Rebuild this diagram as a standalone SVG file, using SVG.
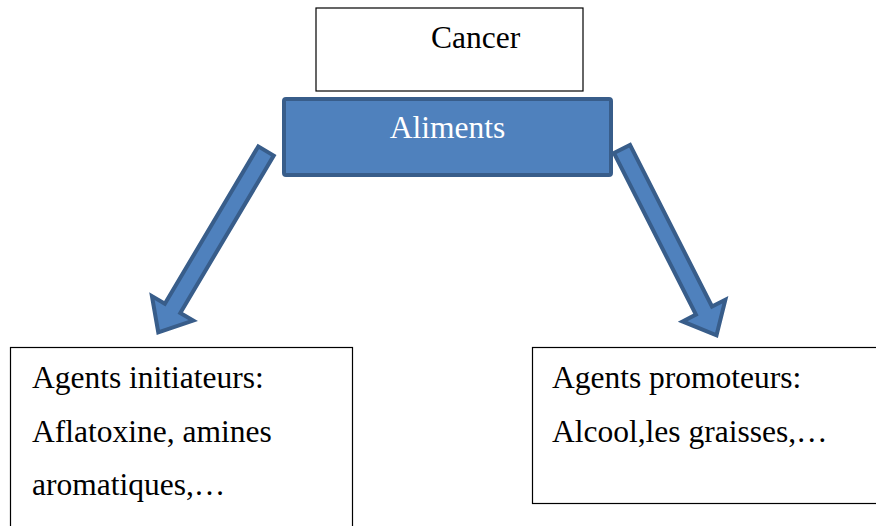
<svg xmlns="http://www.w3.org/2000/svg" width="876" height="526" viewBox="0 0 876 526">
<style>
.t{font-family:"Liberation Serif","Times New Roman",serif;font-size:31.5px;fill:#000}
.box{fill:#fff;stroke:#000;stroke-width:1.2}
.arr{fill:#4F81BD;stroke:#385D8A;stroke-width:4;stroke-linejoin:miter}
</style>
<defs>
<polygon id="arrowShape" points="-9,0 9,0 9,183 24,183 0,211 -24,183 -9,183"/>
</defs>
<g id="connectors">
<use href="#arrowShape" class="arr" transform="translate(266,151) rotate(30.7)"/>
<use href="#arrowShape" class="arr" transform="translate(622,149) rotate(-26.9) scale(1,0.99)"/>
</g>
<g id="cancer">
<rect class="box" x="316" y="8" width="267" height="83"/>
<text class="t" x="431" y="48">Cancer</text>
</g>
<g id="aliments">
<rect x="284" y="99" width="327" height="76" rx="2" fill="#4F81BD" stroke="#385D8A" stroke-width="4"/>
<text class="t" x="447.5" y="138" text-anchor="middle" style="fill:#fff">Aliments</text>
</g>
<g id="initiateurs">
<rect class="box" x="10.5" y="347.5" width="342" height="190"/>
<text class="t" x="32" y="388">Agents initiateurs:</text>
<text class="t" x="32" y="442">Aflatoxine, amines</text>
<text class="t" x="32" y="495">aromatiques,…</text>
</g>
<g id="promoteurs">
<rect class="box" x="532.5" y="347.5" width="350" height="156"/>
<text class="t" x="552" y="388">Agents promoteurs:</text>
<text class="t" x="552" y="442">Alcool,les graisses,…</text>
</g>
</svg>
